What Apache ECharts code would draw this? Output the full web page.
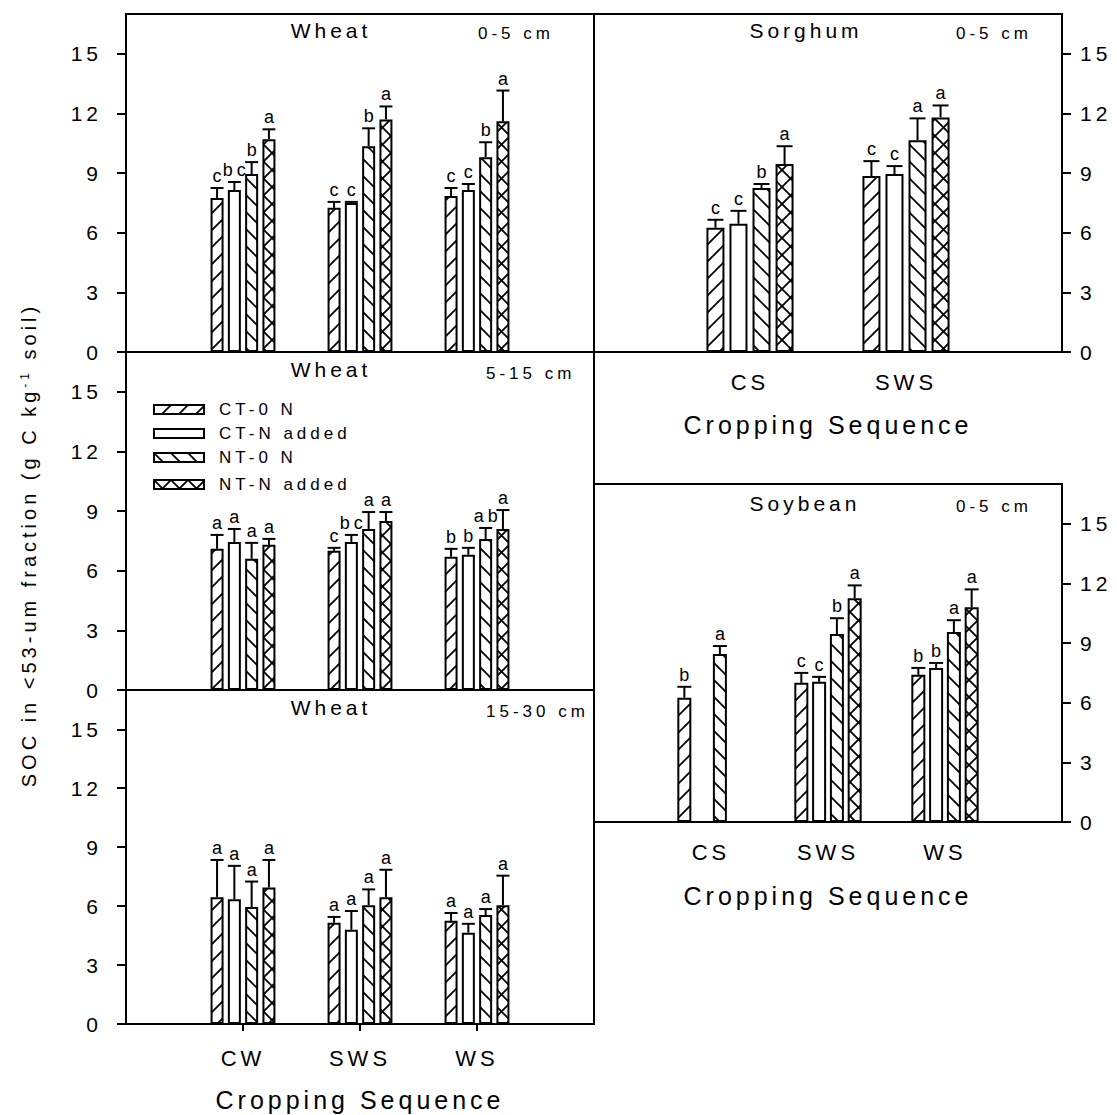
<!DOCTYPE html>
<html>
<head>
<meta charset="utf-8">
<script src="https://cdn.jsdelivr.net/npm/echarts@6/dist/echarts.min.js"></script>
<style>
  html, body { margin: 0; padding: 0; background: #fff; }
  #chart { width: 1117px; height: 1115px; }
  /* widely tracked lettering for every text set in the "tracked" stack */
  #chart text[style*="tracked"] { letter-spacing: 4px; }
</style>
</head>
<body>
<div id="chart"></div>
<script>
// ---- data -------------------------------------------------------------
const treatments = ['CT-0 N', 'CT-N added', 'NT-0 N', 'NT-N added'];
const yTicks = [0, 3, 6, 9, 12, 15];

const wheatSequences = ['CW', 'SWS', 'WS'];
const sorghumSequences = ['CS', 'SWS'];
const soybeanSequences = ['CS', 'SWS', 'WS'];

// rows follow the treatments, columns follow the cropping sequences
const wheat0to5Mean = [[7.75, 7.25, 7.85], [8.15, 7.5, 8.15], [8.95, 10.35, 9.8], [10.7, 11.7, 11.6]];
const wheat0to5Se = [[0.5, 0.3, 0.4], [0.4, 0.05, 0.3], [0.6, 0.9, 0.75], [0.5, 0.65, 1.55]];
const wheat0to5Letters = [['c', 'c', 'c'], ['bc', 'c', 'c'], ['b', 'b', 'b'], ['a', 'a', 'a']];

const wheat5to15Mean = [[7.1, 7.0, 6.7], [7.45, 7.45, 6.8], [6.6, 8.1, 7.6], [7.3, 8.5, 8.1]];
const wheat5to15Se = [[0.7, 0.15, 0.4], [0.65, 0.35, 0.35], [0.8, 0.85, 0.55], [0.3, 0.45, 0.95]];
const wheat5to15Letters = [['a', 'c', 'b'], ['a', 'bc', 'b'], ['a', 'a', 'ab'], ['a', 'a', 'a']];

const wheat15to30Mean = [[6.45, 5.15, 5.25], [6.35, 4.8, 4.65], [5.95, 6.05, 5.55], [6.95, 6.45, 6.05]];
const wheat15to30Se = [[1.9, 0.3, 0.4], [1.7, 0.95, 0.45], [1.3, 0.8, 0.3], [1.4, 1.4, 1.5]];
const wheat15to30Letters = [['a', 'a', 'a'], ['a', 'a', 'a'], ['a', 'a', 'a'], ['a', 'a', 'a']];

const sorghumMean = [[6.25, 8.85], [6.45, 8.95], [8.25, 10.65], [9.45, 11.8]];
const sorghumSe = [[0.4, 0.75], [0.65, 0.4], [0.2, 1.1], [0.9, 0.6]];
const sorghumLetters = [['c', 'c'], ['c', 'c'], ['b', 'a'], ['a', 'a']];

const soybeanMean = [[6.25, 7.0, 7.4], [null, 7.05, 7.75], [8.45, 9.45, 9.55], [null, 11.25, 10.8]];
const soybeanSe = [[0.55, 0.5, 0.35], [null, 0.25, 0.25], [0.4, 0.8, 0.6], [null, 0.65, 0.9]];
const soybeanLetters = [['b', 'c', 'b'], [null, 'c', 'b'], ['a', 'b', 'a'], [null, 'a', 'a']];

// ---- styling helpers --------------------------------------------------
const TRACK = 4;
const TRACKED = '"Liberation Sans", tracked';

// text measuring that knows about the extra letter spacing,
// so centred / right-aligned and rich text is laid out correctly
const measureCtx = document.createElement('canvas').getContext('2d');
if (echarts.setPlatformAPI) {
  echarts.setPlatformAPI({
    measureText(text, font) {
      text = text == null ? '' : String(text);
      measureCtx.font = font || '12px sans-serif';
      let w = measureCtx.measureText(text).width;
      if (/tracked/.test(font || '')) w += TRACK * Array.from(text).length;
      return { width: w };
    }
  });
}

// hatch tiles used as bar fills: "/" , blank, "\" and cross-hatch
function hatch(kind) {
  const s = 17;
  const c = document.createElement('canvas');
  c.width = s; c.height = s;
  const g = c.getContext('2d');
  g.fillStyle = '#fff';
  g.fillRect(0, 0, s, s);
  g.strokeStyle = '#000';
  g.lineWidth = 1.8;
  const fwd = () => {
    g.beginPath();
    g.moveTo(-2, s + 2); g.lineTo(s + 2, -2);
    g.moveTo(-2, 2); g.lineTo(2, -2);
    g.moveTo(s - 2, s + 2); g.lineTo(s + 2, s - 2);
    g.stroke();
  };
  const back = () => {
    g.beginPath();
    g.moveTo(-2, -2); g.lineTo(s + 2, s + 2);
    g.moveTo(s - 2, -2); g.lineTo(s + 2, 2);
    g.moveTo(-2, s - 2); g.lineTo(2, s + 2);
    g.stroke();
  };
  if (kind === 'fwd' || kind === 'cross') fwd();
  if (kind === 'back' || kind === 'cross') back();
  return { image: c.toDataURL(), imageWidth: s, imageHeight: s, repeat: 'repeat' };
}
const fills = [hatch('fwd'), '#ffffff', hatch('back'), hatch('cross')];

// ---- panel layout -----------------------------------------------------
const panels = [
  { title: 'Wheat', depth: '0-5 cm', seq: wheatSequences, mean: wheat0to5Mean, se: wheat0to5Se, letters: wheat0to5Letters,
    left: 126, top: 14, side: 'left', barWidth: 13, barGap: 0.33, cap: 13, xText: false, xTicks: false,
    titleX: 331, titleY: 30, depthX: 478, depthY: 33 },
  { title: 'Wheat', depth: '5-15 cm', seq: wheatSequences, mean: wheat5to15Mean, se: wheat5to15Se, letters: wheat5to15Letters,
    left: 126, top: 352, side: 'left', barWidth: 13, barGap: 0.33, cap: 13, xText: false, xTicks: false,
    titleX: 331, titleY: 369, depthX: 486, depthY: 373 },
  { title: 'Wheat', depth: '15-30 cm', seq: wheatSequences, mean: wheat15to30Mean, se: wheat15to30Se, letters: wheat15to30Letters,
    left: 126, top: 690, side: 'left', barWidth: 13, barGap: 0.33, cap: 13, xText: true, xTicks: true,
    labelMargin: 21, nameGap: 61, titleX: 331, titleY: 707, depthX: 486, depthY: 711 },
  { title: 'Sorghum', depth: '0-5 cm', seq: sorghumSequences, mean: sorghumMean, se: sorghumSe, letters: sorghumLetters,
    left: 594, top: 14, side: 'right', barWidth: 18, barGap: 0.28, cap: 16, xText: true, xTicks: false,
    labelMargin: 17, nameGap: 58, titleX: 806, titleY: 30, depthX: 956, depthY: 33 },
  { title: 'Soybean', depth: '0-5 cm', seq: soybeanSequences, mean: soybeanMean, se: soybeanSe, letters: soybeanLetters,
    left: 594, top: 484, side: 'right', barWidth: 14, barGap: 0.27, cap: 14, xText: true, xTicks: false,
    labelMargin: 17, nameGap: 59, titleX: 805, titleY: 503, depthX: 956, depthY: 506 }
];
const PANEL_W = 468, PANEL_H = 338;

const grid = [], xAxis = [], yAxis = [], series = [], graphic = [];
const black = '#000';

panels.forEach((p, i) => {
  grid.push({ left: p.left, top: p.top, width: PANEL_W, height: PANEL_H, show: true,
    borderColor: black, borderWidth: 2, backgroundColor: 'transparent' });

  xAxis.push({
    gridIndex: i, type: 'category', data: ['', ...p.seq, ''], boundaryGap: false,
    axisLine: { show: true, onZero: false, lineStyle: { color: black, width: 2 } },
    axisTick: { show: p.xTicks, length: 7, lineStyle: { color: black, width: 2 },
      interval: (idx, val) => val !== '' },
    axisLabel: { show: p.xText, interval: 0, margin: p.labelMargin || 18, color: black,
      fontSize: 22, fontFamily: TRACKED },
    name: p.xText ? 'Cropping Sequence' : '', nameLocation: 'middle', nameGap: p.nameGap || 60,
    nameTextStyle: { color: black, fontSize: 25, fontFamily: TRACKED },
    splitLine: { show: false }
  });

  yAxis.push({
    gridIndex: i, type: 'value', min: 0, max: 17, position: p.side,
    axisLine: { show: true, lineStyle: { color: black, width: 2 } },
    axisTick: { show: true, customValues: yTicks, length: 9, lineStyle: { color: black, width: 2 } },
    axisLabel: { customValues: yTicks, margin: p.side === 'left' ? 24 : 18, color: black,
      fontSize: 21, fontFamily: TRACKED },
    splitLine: { show: false }
  });

  treatments.forEach((name, t) => {
    series.push({
      type: 'bar', name, xAxisIndex: i, yAxisIndex: i,
      data: [null, ...p.mean[t], null],
      barWidth: p.barWidth, barGap: (p.barGap * 100) + '%',
      itemStyle: { color: fills[t], borderColor: black, borderWidth: 2 },
      emphasis: { disabled: true }, silent: true
    });
  });

  // error bars with the separation letters above each cap
  const items = [], slots = [], marks = [];
  p.mean.forEach((row, t) => row.forEach((m, c) => {
    if (m == null) return;
    items.push([c + 1, m, m + p.se[t][c]]);
    slots.push(t);
    marks.push(p.letters[t][c]);
  }));
  const pitch = p.barWidth * (1 + p.barGap);
  series.push({
    type: 'custom', xAxisIndex: i, yAxisIndex: i, data: items, z: 5, silent: true,
    renderItem(params, api) {
      const k = params.dataIndex;
      const base = api.coord([api.value(0), api.value(1)]);
      const tip = api.coord([api.value(0), api.value(2)]);
      const x = base[0] + (slots[k] - 1.5) * pitch;
      const line = { stroke: black, lineWidth: 2 };
      return {
        type: 'group',
        children: [
          { type: 'line', shape: { x1: x, y1: base[1], x2: x, y2: tip[1] }, style: line },
          { type: 'line', shape: { x1: x - p.cap / 2, y1: tip[1], x2: x + p.cap / 2, y2: tip[1] }, style: line },
          { type: 'text', style: { text: marks[k], x: x + TRACK / 2, y: tip[1] - 1, textAlign: 'center',
            textVerticalAlign: 'bottom', fill: black, font: '18px ' + TRACKED } }
        ]
      };
    }
  });

  graphic.push({ type: 'text', x: p.titleX, y: p.titleY, silent: true,
    style: { text: p.title, fill: black, font: '21px ' + TRACKED, textAlign: 'center', textVerticalAlign: 'middle' } });
  graphic.push({ type: 'text', x: p.depthX, y: p.depthY, silent: true,
    style: { text: p.depth, fill: black, font: '17px ' + TRACKED, textAlign: 'left', textVerticalAlign: 'middle' } });
});

// shared y-axis title
graphic.push({
  type: 'text', x: 29, y: 545, rotation: Math.PI / 2, silent: true,
  style: {
    text: 'SOC in <53-um fraction (g C kg{sup|-1} soil)',
    fill: black, fontSize: 20, fontFamily: TRACKED, textAlign: 'center', textVerticalAlign: 'middle',
    lineHeight: 24,
    rich: { sup: { fontSize: 12, fontFamily: TRACKED, verticalAlign: 'top', lineHeight: 24, fill: black } }
  }
});

// one legend block per treatment, stacked inside the 5-15 cm panel
const legendRows = [399, 423, 447, 474];
const legend = treatments.map((name, t) => ({
  data: [name], orient: 'vertical', left: 153, top: legendRows[t], padding: 0,
  itemWidth: 50, itemHeight: 9, selectedMode: false, icon: 'rect',
  itemStyle: { borderColor: black, borderWidth: 2 },
  textStyle: { color: black, fontSize: 17, fontFamily: TRACKED, padding: [0, 0, 0, 10] }
}));

const chart = echarts.init(document.getElementById('chart'), null, { renderer: 'svg' });
chart.setOption({
  backgroundColor: '#fff',
  animation: false,
  grid, xAxis, yAxis, series, legend, graphic
});
</script>
</body>
</html>
